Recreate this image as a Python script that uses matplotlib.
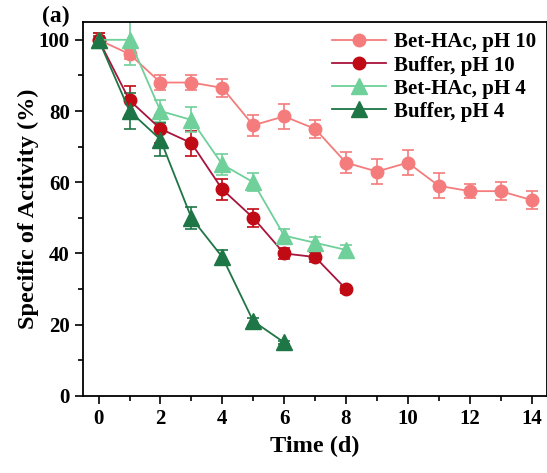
import matplotlib.pyplot as plt
import numpy as np
from matplotlib.ticker import MultipleLocator
from matplotlib.lines import Line2D

plt.rcParams['font.family'] = ['Liberation Serif', 'DejaVu Serif']
plt.rcParams['font.weight'] = 'bold'

# activity data (days, % of initial activity, error bars)
t_bet10 = [0, 1, 2, 3, 4, 5, 6, 7, 8, 9, 10, 11, 12, 13, 14]
y_bet10 = [100, 96, 88, 88, 86.5, 76, 78.5, 75, 65.5, 63, 65.5, 59, 57.5, 57.5, 55]
e_bet10 = [2, 1.5, 2, 2, 2.5, 3, 3.5, 2.5, 3, 3.5, 3.5, 3.5, 2, 2.5, 2.5]

t_buf10 = [0, 1, 2, 3, 4, 5, 6, 7, 8]
y_buf10 = [100, 83, 75, 71, 58, 50, 40, 39, 30]
e_buf10 = [2, 4, 4, 3.5, 3, 2.5, 1.5, 1.5, 1]

t_bet4 = [0, 1, 2, 3, 4, 5, 6, 7, 8]
y_bet4 = [100, 100, 80, 77.5, 65, 60, 45, 43, 41]
e_bet4 = [1, 7, 3, 3.5, 3, 2.5, 2, 1.5, 1.5]

t_buf4 = [0, 1, 2, 3, 4, 5, 6]
y_buf4 = [100, 80, 72, 50, 39, 21, 15]
e_buf4 = [1, 5, 4.5, 3, 2, 1, 0.5]

labels = ['Bet-HAc, pH 10', 'Buffer, pH 10', 'Bet-HAc, pH 4', 'Buffer, pH 4']

fig = plt.figure(figsize=(5.47, 4.73), dpi=100)
ax = fig.add_axes([0.152, 0.163, 0.848, 0.7905])

series = [
    (t_bet10, y_bet10, e_bet10, 'o', 9, '#f47c7c', '#f47c7c', labels[0], True),
    (t_buf10, y_buf10, e_buf10, 'o', 9, '#c00a14', '#a8143c', labels[1], True),
    (t_bet4, y_bet4, e_bet4, '^', 11, '#6fd09a', '#6fd09a', labels[2], False),
    (t_buf4, y_buf4, e_buf4, '^', 11, '#1e7545', '#1e7545', labels[3], False),
]

handles = []
for t, y, e, m, ms, mc, lc, lab, shine in series:
    ax.errorbar(t, y, yerr=e, color=lc, ecolor=mc, marker=m, ms=ms,
                mfc=mc, mec=mc, lw=1.3, elinewidth=1.2, capsize=4,
                capthick=1.2)
    if shine:
        # little highlight so the balls look shaded
        ax.plot(np.array(t) - 0.04, np.array(y) + 0.7, 'o', ms=3.2,
                color='white', alpha=0.6, mec='none')
    handles.append(Line2D([], [], color=lc, marker=m, ms=ms, mfc=mc,
                          mec=mc, lw=1.3, label=lab))

ax.set_xlim(-0.5, 14.5)
ax.set_ylim(0, 105)
ax.xaxis.set_major_locator(MultipleLocator(2))
ax.xaxis.set_minor_locator(MultipleLocator(1))
ax.yaxis.set_major_locator(MultipleLocator(20))
ax.yaxis.set_minor_locator(MultipleLocator(10))
ax.tick_params(which='both', direction='out', width=1.2, labelsize=15,
               top=False, right=False)
ax.tick_params(which='major', length=6)
ax.tick_params(which='minor', length=3.5)
for s in ax.spines.values():
    s.set_linewidth(1.3)
for lbl in ax.get_xticklabels() + ax.get_yticklabels():
    lbl.set_fontweight('bold')

ax.set_xlabel('Time (d)', fontsize=17.5, fontweight='bold', labelpad=5)
ax.set_ylabel('Specific of Activity (%)', fontsize=17.5, fontweight='bold', labelpad=0)

ax.legend(handles=handles, loc='upper right', frameon=False, fontsize=15,
          handlelength=2.6, borderaxespad=0.1, labelspacing=0.15,
          handletextpad=0.4, bbox_to_anchor=(1.0, 1.0))

fig.text(0.077, 0.953, '(a)', fontsize=17, fontweight='bold')

fig.savefig('out.png', dpi=100)
